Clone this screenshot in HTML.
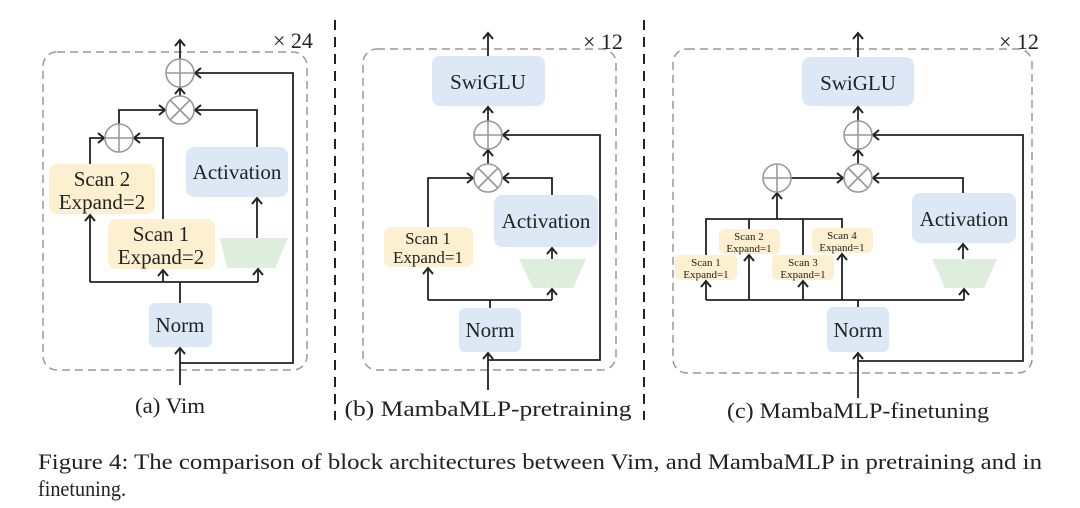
<!DOCTYPE html>
<html><head><meta charset="utf-8"><style>
html,body{margin:0;padding:0;background:#fff;}
svg{display:block;font-family:"Liberation Serif",serif;}
</style></head><body>
<svg width="1080" height="508" viewBox="0 0 1080 508" xmlns="http://www.w3.org/2000/svg">
<defs>
<marker id="a" markerUnits="userSpaceOnUse" markerWidth="14" markerHeight="14" refX="0" refY="0" viewBox="-8 -7 10 14" orient="auto">
<path d="M-6,-5 L0,0 L-6,5" fill="none" stroke="#222" stroke-width="2"/>
</marker>
</defs>
<rect width="1080" height="508" fill="#fff"/>
<g stroke="#222" stroke-width="2" stroke-dasharray="10,7">
<line x1="335" y1="20" x2="335" y2="420"/>
<line x1="644" y1="20" x2="644" y2="420"/>
</g>
<g fill="none" stroke="#999" stroke-width="1.5" stroke-dasharray="8,5">
<rect x="43" y="52" width="264" height="318" rx="14"/>
<rect x="363" y="49" width="253" height="321" rx="14"/>
<rect x="673" y="49" width="359" height="324" rx="14"/>
</g>

<!-- Panel a -->
<g>
<rect x="49" y="164" width="106" height="50" rx="8" fill="#fdf0d0"/>
<rect x="108" y="219" width="107" height="50" rx="8" fill="#fdf0d0"/>
<rect x="186" y="147" width="102" height="50" rx="8" fill="#dde8f6"/>
<polygon points="220,238 288,238 275,268 227,268" fill="#deeedd"/>
<rect x="149" y="303" width="63" height="44" rx="6" fill="#dde8f6"/>
</g>
<g font-size="21" fill="#222" text-anchor="middle">
<text x="102" y="186">Scan 2</text><text x="102" y="209">Expand=2</text>
<text x="161" y="241">Scan 1</text><text x="161" y="264">Expand=2</text>
<text x="237" y="179">Activation</text>
<text x="180" y="332">Norm</text>
<text x="273" y="48" text-anchor="start" font-size="22">× 24</text>
<text x="170" y="413" font-size="22" textLength="70" lengthAdjust="spacingAndGlyphs">(a) Vim</text>
</g>
<g fill="none" stroke="#222" stroke-width="1.8">
<path d="M180,385 V348" marker-end="url(#a)"/>
<path d="M180,363 H293 V73 H195" marker-end="url(#a)"/>
<path d="M180,303 V282"/>
<path d="M90,282 H258"/>
<path d="M90,282 V215" marker-end="url(#a)"/>
<path d="M163,282 V270" marker-end="url(#a)"/>
<path d="M258,282 V269" marker-end="url(#a)"/>
<path d="M257,238 V198" marker-end="url(#a)"/>
<path d="M90,164 V138 H104" marker-end="url(#a)"/>
<path d="M163,219 V138 H134" marker-end="url(#a)"/>
<path d="M119,124 V110 H165" marker-end="url(#a)"/>
<path d="M257,147 V110 H195" marker-end="url(#a)"/>
<path d="M180,96 V88" marker-end="url(#a)"/>
<path d="M180,59 V40" marker-end="url(#a)"/>
</g>
<g fill="#fff" stroke="#999" stroke-width="1.6">
<circle cx="180" cy="73" r="14"/><path d="M166,73 H194 M180,59 V87"/>
<circle cx="180" cy="110" r="14"/><path d="M170,100 L190,120 M190,100 L170,120"/>
<circle cx="119" cy="138" r="14"/><path d="M105,138 H133 M119,124 V152"/>
</g>

<!-- Panel b -->
<g>
<rect x="432" y="56" width="113" height="50" rx="8" fill="#dde8f6"/>
<rect x="384" y="227" width="89" height="40" rx="7" fill="#fdf0d0"/>
<rect x="494" y="195" width="104" height="52" rx="8" fill="#dde8f6"/>
<polygon points="519,259 586,259 573,288 533,288" fill="#deeedd"/>
<rect x="459" y="308" width="62" height="44" rx="6" fill="#dde8f6"/>
</g>
<g font-size="21" fill="#222" text-anchor="middle">
<text x="488" y="89">SwiGLU</text>
<text x="428" y="244" font-size="17">Scan 1</text><text x="428" y="263" font-size="17">Expand=1</text>
<text x="546" y="228">Activation</text>
<text x="490" y="337">Norm</text>
<text x="583" y="49" text-anchor="start" font-size="22">× 12</text>
<text x="488" y="416" font-size="22" textLength="287" lengthAdjust="spacingAndGlyphs">(b) MambaMLP-pretraining</text>
</g>
<g fill="none" stroke="#222" stroke-width="1.8">
<path d="M488,390 V353" marker-end="url(#a)"/>
<path d="M488,360 H600 V135 H503" marker-end="url(#a)"/>
<path d="M490,308 V300"/>
<path d="M428,300 H552"/>
<path d="M428,300 V268" marker-end="url(#a)"/>
<path d="M552,300 V289" marker-end="url(#a)"/>
<path d="M552,259 V248" marker-end="url(#a)"/>
<path d="M428,227 V178 H473" marker-end="url(#a)"/>
<path d="M552,195 V178 H503" marker-end="url(#a)"/>
<path d="M488,164 V150" marker-end="url(#a)"/>
<path d="M488,121 V107" marker-end="url(#a)"/>
<path d="M488,56 V33" marker-end="url(#a)"/>
</g>
<g fill="#fff" stroke="#999" stroke-width="1.6">
<circle cx="488" cy="135" r="14"/><path d="M474,135 H502 M488,121 V149"/>
<circle cx="488" cy="178" r="14"/><path d="M478,168 L498,188 M498,168 L478,188"/>
</g>

<!-- Panel c -->
<g>
<rect x="802" y="57" width="112" height="49" rx="8" fill="#dde8f6"/>
<rect x="675" y="255" width="62" height="25" rx="5" fill="#fdf0d0"/>
<rect x="719" y="229" width="61" height="25" rx="5" fill="#fdf0d0"/>
<rect x="772" y="255" width="62" height="25" rx="5" fill="#fdf0d0"/>
<rect x="812" y="228" width="61" height="25" rx="5" fill="#fdf0d0"/>
<rect x="912" y="193" width="104" height="50" rx="8" fill="#dde8f6"/>
<polygon points="932,259 997,259 984,288 945,288" fill="#deeedd"/>
<rect x="827" y="307" width="62" height="45" rx="6" fill="#dde8f6"/>
</g>
<g font-size="21" fill="#222" text-anchor="middle">
<text x="858" y="90">SwiGLU</text>
<g font-size="11">
<text x="706" y="266">Scan 1</text><text x="706" y="278">Expand=1</text>
<text x="749" y="240">Scan 2</text><text x="749" y="252">Expand=1</text>
<text x="803" y="266">Scan 3</text><text x="803" y="278">Expand=1</text>
<text x="842" y="239">Scan 4</text><text x="842" y="251">Expand=1</text>
</g>
<text x="964" y="226">Activation</text>
<text x="858" y="337">Norm</text>
<text x="999" y="49" text-anchor="start" font-size="22">× 12</text>
<text x="858" y="418" font-size="22" textLength="262" lengthAdjust="spacingAndGlyphs">(c) MambaMLP-finetuning</text>
</g>
<g fill="none" stroke="#222" stroke-width="1.8">
<path d="M858,398 V353" marker-end="url(#a)"/>
<path d="M858,361 H1023 V135 H873" marker-end="url(#a)"/>
<path d="M858,307 V300"/>
<path d="M706,300 H964"/>
<path d="M706,300 V281" marker-end="url(#a)"/>
<path d="M749,300 V255" marker-end="url(#a)"/>
<path d="M803,300 V281" marker-end="url(#a)"/>
<path d="M842,300 V254" marker-end="url(#a)"/>
<path d="M964,300 V289" marker-end="url(#a)"/>
<path d="M963,259 V244" marker-end="url(#a)"/>
<path d="M706,255 V219 H842 V228 M749,219 V229 M803,219 V255"/>
<path d="M777,219 V193" marker-end="url(#a)"/>
<path d="M791,178 H843" marker-end="url(#a)"/>
<path d="M963,193 V178 H873" marker-end="url(#a)"/>
<path d="M858,164 V150" marker-end="url(#a)"/>
<path d="M858,121 V107" marker-end="url(#a)"/>
<path d="M858,57 V33" marker-end="url(#a)"/>
</g>
<g fill="#fff" stroke="#999" stroke-width="1.6">
<circle cx="858" cy="135" r="14"/><path d="M844,135 H872 M858,121 V149"/>
<circle cx="858" cy="178" r="14"/><path d="M848,168 L868,188 M868,168 L848,188"/>
<circle cx="777" cy="178" r="14"/><path d="M763,178 H791 M777,164 V192"/>
</g>

<g font-size="22" fill="#222">
<text x="38" y="469" textLength="1004" lengthAdjust="spacingAndGlyphs">Figure 4: The comparison of block architectures between Vim, and MambaMLP in pretraining and in</text>
<text x="38" y="496" textLength="88" lengthAdjust="spacingAndGlyphs">finetuning.</text>
</g>
</svg>
</body></html>
